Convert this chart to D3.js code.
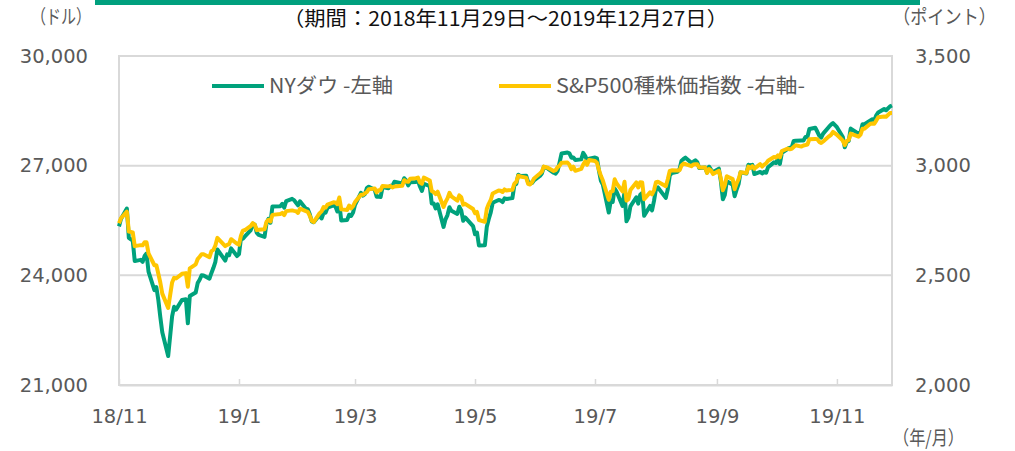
<!DOCTYPE html>
<html>
<head>
<meta charset="utf-8">
<script src="https://cdn.jsdelivr.net/npm/d3@7"></script>
<style>
  body { margin: 0; background: #fff; }
  svg { display: block; }
</style>
</head>
<body>
<div id="vis"></div>
<script>
// trading days, Nov 29 2018 - Dec 27 2019
const days = [
  "2018-11-29","2018-11-30",
  "2018-12-03","2018-12-04","2018-12-06","2018-12-07","2018-12-10","2018-12-11","2018-12-12","2018-12-13","2018-12-14","2018-12-17","2018-12-18","2018-12-19","2018-12-20","2018-12-21","2018-12-24","2018-12-26","2018-12-27","2018-12-28","2018-12-31",
  "2019-01-02","2019-01-03","2019-01-04","2019-01-07","2019-01-08","2019-01-09","2019-01-10","2019-01-11","2019-01-14","2019-01-15","2019-01-16","2019-01-17","2019-01-18","2019-01-22","2019-01-23","2019-01-24","2019-01-25","2019-01-28","2019-01-29","2019-01-30","2019-01-31",
  "2019-02-01","2019-02-04","2019-02-05","2019-02-06","2019-02-07","2019-02-08","2019-02-11","2019-02-12","2019-02-13","2019-02-14","2019-02-15","2019-02-19","2019-02-20","2019-02-21","2019-02-22","2019-02-25","2019-02-26","2019-02-27","2019-02-28",
  "2019-03-01","2019-03-04","2019-03-05","2019-03-06","2019-03-07","2019-03-08","2019-03-11","2019-03-12","2019-03-13","2019-03-14","2019-03-15","2019-03-18","2019-03-19","2019-03-20","2019-03-21","2019-03-22","2019-03-25","2019-03-26","2019-03-27","2019-03-28","2019-03-29",
  "2019-04-01","2019-04-02","2019-04-03","2019-04-04","2019-04-05","2019-04-08","2019-04-09","2019-04-10","2019-04-11","2019-04-12","2019-04-15","2019-04-16","2019-04-17","2019-04-18","2019-04-22","2019-04-23","2019-04-24","2019-04-25","2019-04-26","2019-04-29","2019-04-30",
  "2019-05-01","2019-05-02","2019-05-03","2019-05-06","2019-05-07","2019-05-08","2019-05-09","2019-05-10","2019-05-13","2019-05-14","2019-05-15","2019-05-16","2019-05-17","2019-05-20","2019-05-21","2019-05-22","2019-05-23","2019-05-24","2019-05-28","2019-05-29","2019-05-30","2019-05-31",
  "2019-06-03","2019-06-04","2019-06-05","2019-06-06","2019-06-07","2019-06-10","2019-06-11","2019-06-12","2019-06-13","2019-06-14","2019-06-17","2019-06-18","2019-06-19","2019-06-20","2019-06-21","2019-06-24","2019-06-25","2019-06-26","2019-06-27","2019-06-28",
  "2019-07-01","2019-07-02","2019-07-03","2019-07-05","2019-07-08","2019-07-09","2019-07-10","2019-07-11","2019-07-12","2019-07-15","2019-07-16","2019-07-17","2019-07-18","2019-07-19","2019-07-22","2019-07-23","2019-07-24","2019-07-25","2019-07-26","2019-07-29","2019-07-30","2019-07-31",
  "2019-08-01","2019-08-02","2019-08-05","2019-08-06","2019-08-07","2019-08-08","2019-08-09","2019-08-12","2019-08-13","2019-08-14","2019-08-15","2019-08-16","2019-08-19","2019-08-20","2019-08-21","2019-08-22","2019-08-23","2019-08-26","2019-08-27","2019-08-28","2019-08-29","2019-08-30",
  "2019-09-03","2019-09-04","2019-09-05","2019-09-06","2019-09-09","2019-09-10","2019-09-11","2019-09-12","2019-09-13","2019-09-16","2019-09-17","2019-09-18","2019-09-19","2019-09-20","2019-09-23","2019-09-24","2019-09-25","2019-09-26","2019-09-27","2019-09-30",
  "2019-10-01","2019-10-02","2019-10-03","2019-10-04","2019-10-07","2019-10-08","2019-10-09","2019-10-10","2019-10-11","2019-10-14","2019-10-15","2019-10-16","2019-10-17","2019-10-18","2019-10-21","2019-10-22","2019-10-23","2019-10-24","2019-10-25","2019-10-28","2019-10-29","2019-10-30","2019-10-31",
  "2019-11-01","2019-11-04","2019-11-05","2019-11-06","2019-11-07","2019-11-08","2019-11-11","2019-11-12","2019-11-13","2019-11-14","2019-11-15","2019-11-18","2019-11-19","2019-11-20","2019-11-21","2019-11-22","2019-11-25","2019-11-26","2019-11-27","2019-11-29",
  "2019-12-02","2019-12-03","2019-12-04","2019-12-05","2019-12-06","2019-12-09","2019-12-10","2019-12-11","2019-12-12","2019-12-13","2019-12-16","2019-12-17","2019-12-18","2019-12-19","2019-12-20","2019-12-23","2019-12-24","2019-12-26","2019-12-27"
];

// NY Dow (left axis, dollars)
const dow = [
  25338.84,25538.46,
  25826.43,25027.07,24947.67,24388.95,24423.26,24370.24,24527.27,24597.38,24100.51,23592.98,23675.64,23323.66,22859.60,22445.37,21792.20,22878.45,23138.82,23062.40,23327.46,
  23346.24,22686.22,23433.16,23531.35,23787.45,23879.12,24001.92,23995.95,23909.84,24065.59,24207.16,24370.10,24706.35,24404.48,24575.62,24553.24,24737.20,24528.22,24579.96,25014.86,24999.67,
  25063.89,25239.37,25411.52,25390.30,25169.53,25106.33,25053.11,25425.76,25543.27,25439.39,25883.25,25891.32,25954.44,25850.63,26031.81,26091.95,26057.98,25985.16,25916.00,
  26026.32,25819.65,25806.63,25673.46,25473.23,25450.24,25650.88,25554.66,25702.89,25709.94,25848.87,25914.10,25887.38,25745.67,25962.51,25502.32,25516.83,25657.73,25625.59,25717.46,25928.68,
  26258.42,26179.13,26218.13,26384.63,26424.99,26341.02,26150.58,26157.16,26143.05,26412.30,26384.77,26452.66,26449.54,26559.54,26511.05,26656.39,26597.05,26462.08,26543.33,26554.39,26592.91,
  26430.14,26307.79,26504.95,26438.48,25965.09,25967.33,25828.36,25942.37,25324.99,25532.05,25648.02,25862.68,25764.00,25679.90,25877.33,25776.61,25490.47,25585.69,25347.77,25126.41,25169.88,24815.04,
  24819.78,25332.18,25539.57,25720.66,25983.94,26062.68,26048.51,26004.83,26106.77,26089.61,26112.53,26465.54,26504.00,26753.17,26719.13,26727.54,26548.22,26536.82,26526.58,26599.96,
  26717.43,26786.68,26966.00,26922.12,26806.14,26783.49,26860.20,27088.08,27332.03,27359.16,27335.63,27219.85,27222.97,27154.20,27171.90,27349.19,27269.97,27140.98,27192.45,27221.35,27198.02,26864.27,
  26583.42,26485.01,25717.74,26029.52,26007.07,26378.19,26287.44,25897.71,26279.91,25479.42,25579.39,25886.01,26135.79,25962.44,26202.73,26252.24,25628.90,25898.83,25777.90,26036.10,26362.25,26403.28,
  26118.02,26355.47,26728.15,26797.46,26835.51,26909.43,27137.04,27182.45,27219.52,27076.82,27110.80,27147.08,27094.79,26935.07,26949.99,26807.77,26970.71,26891.12,26820.25,26916.83,
  26573.04,26078.62,26201.04,26573.72,26478.02,26164.04,26346.01,26496.67,26816.59,26787.36,27024.80,27001.98,27025.88,26770.20,26827.64,26788.10,26833.95,26805.53,26958.06,27090.72,27071.46,27186.69,27046.23,
  27347.36,27462.11,27492.63,27492.56,27674.80,27681.24,27691.49,27691.49,27783.59,27781.96,28004.89,28036.22,27934.02,27821.09,27766.29,27875.62,28066.47,28121.68,28164.00,28051.41,
  27783.04,27502.81,27649.78,27677.79,28015.06,27909.60,27881.72,27911.30,28132.05,28135.38,28235.89,28267.16,28239.28,28376.96,28455.09,28551.53,28515.45,28621.39,28645.26
];

// S&P500 (right axis, points)
const sp500 = [
  2737.80,2760.17,
  2790.37,2700.06,2695.95,2633.08,2637.72,2636.78,2651.07,2650.54,2599.95,2545.94,2546.16,2506.96,2467.42,2416.62,2351.10,2467.70,2488.83,2485.74,2506.85,
  2510.03,2447.89,2531.94,2549.69,2574.41,2584.96,2596.64,2596.26,2582.61,2610.30,2616.10,2635.96,2670.71,2632.90,2638.70,2642.33,2664.76,2643.85,2640.00,2681.05,2704.10,
  2706.53,2724.87,2737.70,2731.61,2706.05,2707.88,2709.80,2744.73,2753.03,2745.73,2775.60,2779.76,2784.70,2774.88,2792.67,2796.11,2793.90,2792.38,2784.49,
  2803.69,2792.81,2789.65,2771.45,2748.93,2743.07,2783.30,2791.52,2810.92,2808.48,2822.48,2832.94,2832.57,2824.23,2854.88,2800.71,2798.36,2818.46,2805.37,2815.44,2834.40,
  2867.19,2867.24,2873.40,2879.39,2892.74,2895.77,2878.20,2888.21,2888.32,2907.41,2905.58,2907.06,2900.45,2905.03,2907.97,2933.68,2927.25,2926.17,2939.88,2943.03,2945.83,
  2923.73,2917.52,2945.64,2932.47,2884.05,2879.42,2870.72,2881.40,2811.87,2834.41,2850.96,2876.32,2859.53,2840.23,2864.36,2856.27,2822.24,2826.06,2802.39,2783.02,2788.86,2752.06,
  2744.45,2803.27,2826.15,2843.49,2873.34,2886.73,2885.72,2879.84,2891.64,2886.98,2889.67,2917.75,2926.46,2954.18,2950.46,2945.35,2917.38,2913.78,2924.92,2941.76,
  2964.33,2973.01,2995.82,2990.41,2975.95,2979.63,2993.07,2999.91,3013.77,3014.30,3004.04,2984.42,2995.11,2976.61,2985.03,3005.47,3019.56,3003.67,3025.86,3020.97,3013.18,2980.38,
  2953.56,2932.05,2844.74,2881.77,2883.98,2938.09,2918.65,2882.70,2926.32,2840.60,2847.60,2888.68,2923.65,2900.51,2924.43,2922.95,2847.11,2878.38,2869.16,2887.94,2924.58,2926.46,
  2906.27,2937.78,2976.00,2978.71,2978.43,2979.39,3000.93,3009.57,3007.39,2997.96,3005.70,3006.73,3006.79,2992.07,2991.78,2966.60,2984.87,2977.62,2961.79,2976.74,
  2940.25,2887.61,2910.63,2952.01,2938.79,2893.06,2919.40,2938.13,2970.27,2966.15,2995.68,2989.69,2997.95,2986.20,3006.72,2995.99,3004.52,3010.29,3022.55,3039.42,3036.89,3046.77,3037.56,
  3066.91,3078.27,3074.62,3076.78,3085.18,3093.08,3087.01,3091.84,3094.04,3096.63,3120.46,3122.03,3120.18,3108.46,3103.54,3110.29,3133.64,3140.52,3153.63,3140.98,
  3113.87,3093.20,3112.76,3117.43,3145.91,3135.96,3132.52,3141.63,3168.57,3168.80,3191.45,3192.52,3191.14,3205.37,3221.22,3224.01,3223.38,3239.91,3240.02
];

const leftTicks = [21000, 24000, 27000, 30000];
const rightTicks = [2000, 2500, 3000, 3500];
const xTickDates = ["2018-11-29","2019-01-29","2019-03-29","2019-05-29","2019-07-29","2019-09-29","2019-11-29"];

const width = 1015, height = 451;
const plot = { left: 119, right: 892, top: 56, bottom: 385 };
const green = "#00a27c", yellow = "#ffc600", gray = "#595959", light = "#d9d9d9";
const numFont = "'DejaVu Sans', Verdana, sans-serif";
const jpFont = "'Noto Sans CJK JP', sans-serif";

const parse = d3.timeParse("%Y-%m-%d");
const dates = days.map(parse);

const x = d3.scaleTime()
  .domain([parse("2018-11-29"), parse("2019-12-27")])
  .range([plot.left, plot.right]);
const yL = d3.scaleLinear().domain([21000, 30000]).range([plot.bottom, plot.top]);
const yR = d3.scaleLinear().domain([2000, 3500]).range([plot.bottom, plot.top]);

const svg = d3.select("#vis").append("svg")
  .attr("width", width)
  .attr("height", height);

// top bar
svg.append("rect")
  .attr("x", 95).attr("y", 0)
  .attr("width", 825).attr("height", 5)
  .attr("fill", "#00a07e");

// gridlines
svg.append("g").selectAll("line")
  .data([24000, 27000])
  .join("line")
  .attr("x1", plot.left).attr("x2", plot.right)
  .attr("y1", d => yL(d)).attr("y2", d => yL(d))
  .attr("stroke", light).attr("stroke-width", 2);

// plot frame
svg.append("rect")
  .attr("x", plot.left).attr("y", plot.top)
  .attr("width", plot.right - plot.left).attr("height", plot.bottom - plot.top)
  .attr("fill", "none").attr("stroke", light).attr("stroke-width", 2);

// x axis
const xAxis = d3.axisBottom(x)
  .tickValues(xTickDates.map(parse))
  .tickFormat(d3.timeFormat("%y/%-m"))
  .tickSizeInner(-6).tickSizeOuter(0).tickPadding(24);
const gx = svg.append("g")
  .attr("transform", `translate(0,${plot.bottom})`)
  .call(xAxis);
gx.select(".domain").attr("stroke", light).attr("stroke-width", 2);
gx.selectAll(".tick line").attr("stroke", light).attr("stroke-width", 1.5);
gx.selectAll("text").attr("fill", gray).style("font-family", numFont).style("font-size", "19.5px");

// y axes
const gl = svg.append("g")
  .attr("transform", `translate(${plot.left},0)`)
  .call(d3.axisLeft(yL).tickValues(leftTicks).tickFormat(d3.format(",")).tickSize(0).tickPadding(31));
gl.select(".domain").remove();
gl.selectAll("text").attr("fill", gray).style("font-family", numFont).style("font-size", "19.5px");

const gr = svg.append("g")
  .attr("transform", `translate(${plot.right},0)`)
  .call(d3.axisRight(yR).tickValues(rightTicks).tickFormat(d3.format(",")).tickSize(0).tickPadding(23));
gr.select(".domain").remove();
gr.selectAll("text").attr("fill", gray).style("font-family", numFont).style("font-size", "19.5px");

// lines
const lineL = d3.line().x((d, i) => x(dates[i])).y(d => yL(d));
const lineR = d3.line().x((d, i) => x(dates[i])).y(d => yR(d));

svg.append("path")
  .datum(dow)
  .attr("d", lineL)
  .attr("fill", "none").attr("stroke", green)
  .attr("stroke-width", 4).attr("stroke-linejoin", "round");

svg.append("path")
  .datum(sp500)
  .attr("d", lineR)
  .attr("fill", "none").attr("stroke", yellow)
  .attr("stroke-width", 4).attr("stroke-linejoin", "round");

// legend
const legend = [
  { name: "NYダウ -左軸", color: green, x: 212, len: 124 },
  { name: "S&P500種株価指数 -右軸-", color: yellow, x: 499, len: 249 }
];
const lg = svg.append("g").selectAll("g").data(legend).join("g");
lg.append("line")
  .attr("x1", d => d.x).attr("x2", d => d.x + 52)
  .attr("y1", 86).attr("y2", 86)
  .attr("stroke", d => d.color).attr("stroke-width", 4);
lg.append("text")
  .attr("x", d => d.x + 57).attr("y", 93)
  .attr("fill", gray)
  .attr("textLength", d => d.len).attr("lengthAdjust", "spacingAndGlyphs")
  .style("font-family", jpFont).style("font-size", "20px")
  .text(d => d.name);

// titles and units
svg.append("text")
  .attr("x", 283).attr("y", 26)
  .attr("fill", "#111")
  .attr("textLength", 445).attr("lengthAdjust", "spacingAndGlyphs")
  .style("font-family", jpFont).style("font-size", "20px")
  .text("（期間：2018年11月29日～2019年12月27日）");

svg.append("text")
  .attr("x", 31).attr("y", 24)
  .attr("fill", gray)
  .attr("textLength", 60).attr("lengthAdjust", "spacingAndGlyphs")
  .style("font-family", jpFont).style("font-size", "19.5px")
  .text("（ドル）");

svg.append("text")
  .attr("x", 893).attr("y", 24)
  .attr("fill", gray)
  .attr("textLength", 103).attr("lengthAdjust", "spacingAndGlyphs")
  .style("font-family", jpFont).style("font-size", "19.5px")
  .text("（ポイント）");

svg.append("text")
  .attr("x", 893).attr("y", 445)
  .attr("fill", gray)
  .attr("textLength", 71).attr("lengthAdjust", "spacingAndGlyphs")
  .style("font-family", jpFont).style("font-size", "19.5px")
  .text("（年/月）");
</script>
</body>
</html>
